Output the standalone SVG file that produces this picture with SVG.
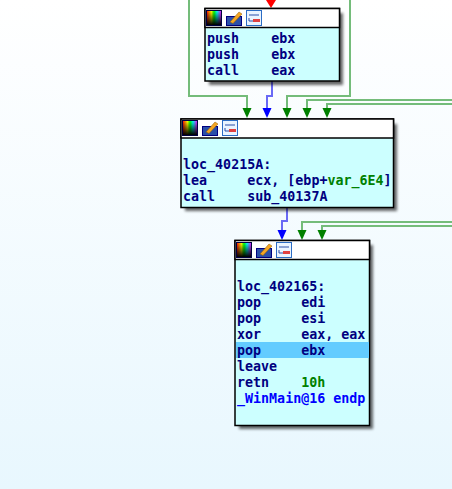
<svg xmlns="http://www.w3.org/2000/svg" width="452" height="489" viewBox="0 0 452 489">
<style>
.box{fill:#ccffff;stroke:#000;stroke-width:1.5}
.hd{fill:#fff;stroke:#000;stroke-width:1.5}
.sh{fill:#000;opacity:.6;filter:url(#blur)}
.g{fill:none;stroke:#74bc7a;stroke-width:2}
.b{fill:none;stroke:#6a6af5;stroke-width:2}
.gh{fill:#008000}.bh{fill:#0000ff}.rh{fill:#ff0000}
text{font-family:"DejaVu Sans Mono","Liberation Mono",monospace;font-size:13.33px;font-weight:bold;fill:#000080;white-space:pre}
.v{fill:#008000}.n{fill:#0000ff}
</style>
<defs>
<linearGradient id="bg" x1="0" y1="0" x2="0" y2="1"><stop offset="0" stop-color="#ffffff"/><stop offset="1" stop-color="#e8f7fe"/></linearGradient>
<linearGradient id="rb" x1="0" y1="0" x2="1" y2="0"><stop offset="0" stop-color="#ff0000"/><stop offset=".33" stop-color="#ffff00"/><stop offset=".5" stop-color="#00ff00"/><stop offset=".7" stop-color="#00ffff"/><stop offset="1" stop-color="#ff00ff"/></linearGradient>
<linearGradient id="dk" x1="0" y1="0" x2="0" y2="1"><stop offset="0" stop-color="#000" stop-opacity="0"/><stop offset="1" stop-color="#000"/></linearGradient>
<filter id="blur" x="-10%" y="-10%" width="120%" height="120%"><feGaussianBlur stdDeviation="1.5"/></filter>
<g id="icons">
<rect x="0.500" y="0.500" width="15" height="15" fill="url(#rb)" stroke="#000040"/>
<rect x="1" y="1" width="14" height="14" fill="url(#dk)"/>
<rect x="20.500" y="6.500" width="15" height="9" fill="#2b4fa8" stroke="#000080"/>
<path d="M24 12L33 2L36 4L27 13.500Z" fill="#f5a623" stroke="#8a5a00" stroke-width=".5"/>
<rect x="40.500" y="0.500" width="15" height="15" fill="#eaf4ff" stroke="#2b6cc4"/>
<path d="M43 5H53M43 8V11H48" fill="none" stroke="#2b4fa8"/>
<rect x="47" y="9" width="7" height="3" fill="#e04040"/>
</g>
</defs>
<rect width="452" height="489" fill="url(#bg)"/>
<g id="connectors">
<path class="g" d="M189 0V96H247V110"/>
<path class="g" d="M350 0V96H287V110"/>
<path class="g" d="M452 100H307V110"/>
<path class="g" d="M452 104H327V110"/>
<path class="b" d="M272 81V96H267V110"/>
<path class="b" d="M287 207V221H282V231"/>
<path class="g" d="M452 222H302V231"/>
<path class="g" d="M452 226H322V231"/>
<polygon class="rh" points="266,0 276,0 271,8"/>
<polygon class="gh" points="242.500,108 251.500,108 247,118"/>
<polygon class="bh" points="262.500,108 271.500,108 267,118"/>
<polygon class="gh" points="282.500,108 291.500,108 287,118"/>
<polygon class="gh" points="302.500,108 311.500,108 307,118"/>
<polygon class="gh" points="322.500,108 331.500,108 327,118"/>
<polygon class="bh" points="277.500,230 286.500,230 282,240"/>
<polygon class="gh" points="297.500,230 306.500,230 302,240"/>
<polygon class="gh" points="317.500,230 326.500,230 322,240"/>
</g>
<g id="node-1">
<rect class="sh" x="209" y="13" width="134" height="72"/>
<rect class="box" x="205" y="8.500" width="134.500" height="72.500"/>
<rect class="hd" x="205" y="8.500" width="134.500" height="19"/>
<use href="#icons" x="206" y="10"/>
<text x="207" y="43">push    ebx</text>
<text x="207" y="59">push    ebx</text>
<text x="207" y="75">call    eax</text>
</g>
<g id="node-2">
<rect class="sh" x="185" y="124" width="212" height="87"/>
<rect class="box" x="181" y="119" width="212.500" height="88.500"/>
<rect class="hd" x="181" y="119" width="212.500" height="19"/>
<use href="#icons" x="182" y="120"/>
<text x="183" y="169">loc_40215A:</text>
<text x="183" y="185">lea     ecx, [ebp+<tspan class="v">var_6E4</tspan>]</text>
<text x="183" y="201">call    sub_40137A</text>
</g>
<g id="node-3">
<rect class="sh" x="239" y="245" width="134" height="184"/>
<rect class="box" x="235" y="240.500" width="134.500" height="185"/>
<rect class="hd" x="235" y="240.500" width="134.500" height="19"/>
<use href="#icons" x="236" y="242"/>
<rect x="236" y="342" width="133" height="16" fill="#63ccff"/>
<text x="237" y="291">loc_402165:</text>
<text x="237" y="307">pop     edi</text>
<text x="237" y="323">pop     esi</text>
<text x="237" y="339">xor     eax, eax</text>
<text x="237" y="355">pop     ebx</text>
<text x="237" y="371">leave</text>
<text x="237" y="387">retn    <tspan class="v">10h</tspan></text>
<text x="237" y="403" class="n">_WinMain@16 endp</text>
</g>
</svg>
